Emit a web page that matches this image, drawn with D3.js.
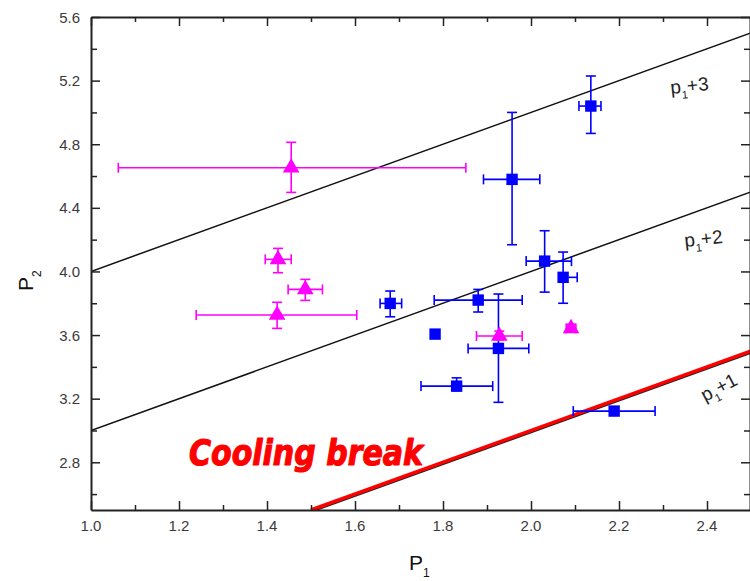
<!DOCTYPE html>
<html>
<head>
<meta charset="utf-8">
<script src="https://cdn.jsdelivr.net/npm/d3@7"></script>
<style>
  html, body { margin: 0; padding: 0; background: #fff; }
  svg { display: block; }
</style>
</head>
<body>
<svg id="chart" width="750" height="581"></svg>
<script>
// Blue squares: P1, P2 with asymmetric error ranges
const blueP1    = [2.136, 1.957, 2.031, 2.073, 1.880, 1.680, 1.782, 1.926, 1.831, 2.189];
const blueP2    = [5.040, 4.579, 4.065, 3.963, 3.820, 3.799, 3.606, 3.516, 3.279, 3.122];
const blueP1Lo  = [2.109, 1.892, 1.989, 2.064, 1.780, 1.657, 1.782, 1.857, 1.750, 2.096];
const blueP1Hi  = [2.159, 2.020, 2.092, 2.105, 1.980, 1.706, 1.782, 1.995, 1.913, 2.282];
const blueP2Lo  = [4.868, 4.168, 3.870, 3.800, 3.745, 3.715, 3.606, 3.177, 3.250, 3.122];
const blueP2Hi  = [5.229, 5.000, 4.256, 4.122, 3.887, 3.877, 3.606, 3.858, 3.331, 3.122];

// Magenta triangles
const magP1     = [1.455, 1.425, 1.487, 1.423, 1.928, 2.091];
const magP2     = [4.652, 4.076, 3.887, 3.726, 3.594, 3.642];
const magP1Lo   = [1.062, 1.396, 1.448, 1.239, 1.876, 2.080];
const magP1Hi   = [1.852, 1.455, 1.526, 1.604, 1.980, 2.102];
const magP2Lo   = [4.497, 3.992, 3.818, 3.642, 3.570, 3.620];
const magP2Hi   = [4.812, 4.145, 3.950, 3.806, 3.625, 3.668];

// Reference lines P2 = P1 + k
const lineOffsets = [3, 2, 1];
const xTickLabels = ["1.0", "1.2", "1.4", "1.6", "1.8", "2.0", "2.2", "2.4"];
const yTickLabels = ["2.8", "3.2", "3.6", "4.0", "4.4", "4.8", "5.2", "5.6"];

const svg = d3.select("#chart");
const x = d3.scaleLinear().domain([1.0, 2.5]).range([91, 751]);
const y = d3.scaleLinear().domain([2.5, 5.6]).range([510, 17]);

const plot = svg.append("g");
plot.append("clipPath").attr("id", "clip")
  .append("rect").attr("x", x(1.0)).attr("y", y(5.6))
  .attr("width", x(2.5) - x(1.0)).attr("height", y(2.5) - y(5.6));
const inner = plot.append("g").attr("clip-path", "url(#clip)");

// Reference lines
function segment(k) {
  const x0 = Math.max(1.0, 2.5 - k);
  return [[x0, x0 + k], [2.5, 2.5 + k]];
}
lineOffsets.forEach(k => {
  const s = segment(k);
  if (k === 1) {
    inner.append("line")
      .attr("x1", x(s[0][0]) + 0.5).attr("y1", y(s[0][1]) + 1.6)
      .attr("x2", x(s[1][0]) + 0.5).attr("y2", y(s[1][1]) + 1.6)
      .attr("stroke", "#222").attr("stroke-width", 2);
    inner.append("line")
      .attr("x1", x(s[0][0])).attr("y1", y(s[0][1]))
      .attr("x2", x(s[1][0])).attr("y2", y(s[1][1]))
      .attr("stroke", "#ff0000").attr("stroke-width", 3.6);
  } else {
    inner.append("line")
      .attr("x1", x(s[0][0])).attr("y1", y(s[0][1]))
      .attr("x2", x(s[1][0])).attr("y2", y(s[1][1]))
      .attr("stroke", "#111").attr("stroke-width", 1.5);
  }
});

// Error bars + markers
function drawSeries(p1, p2, lo1, hi1, lo2, hi2, color, shape) {
  const g = inner.append("g").attr("stroke", color).attr("fill", color);
  const cap = 5;
  p1.forEach((v, i) => {
    const cx = x(v), cy = y(p2[i]);
    const xl = x(lo1[i]), xr = x(hi1[i]);
    const yt = y(hi2[i]), yb = y(lo2[i]);
    if (xr - xl > 2) {
      g.append("line").attr("x1", xl).attr("x2", xr).attr("y1", cy).attr("y2", cy).attr("stroke-width", 1.6);
      g.append("line").attr("x1", xl).attr("x2", xl).attr("y1", cy - cap).attr("y2", cy + cap).attr("stroke-width", 1.6);
      g.append("line").attr("x1", xr).attr("x2", xr).attr("y1", cy - cap).attr("y2", cy + cap).attr("stroke-width", 1.6);
    }
    if (yb - yt > 2) {
      g.append("line").attr("x1", cx).attr("x2", cx).attr("y1", yt).attr("y2", yb).attr("stroke-width", 1.6);
      g.append("line").attr("x1", cx - cap).attr("x2", cx + cap).attr("y1", yt).attr("y2", yt).attr("stroke-width", 1.6);
      g.append("line").attr("x1", cx - cap).attr("x2", cx + cap).attr("y1", yb).attr("y2", yb).attr("stroke-width", 1.6);
    }
  });
  g.selectAll("path.m").data(p1).join("path")
    .attr("class", "m")
    .attr("transform", (v, i) => `translate(${x(v)},${y(p2[i])})`)
    .attr("d", d3.symbol().type(shape).size(shape === d3.symbolSquare ? 130 : 120))
    .attr("stroke", "none");
}
drawSeries(blueP1, blueP2, blueP1Lo, blueP1Hi, blueP2Lo, blueP2Hi, "#0000ff", d3.symbolSquare);
drawSeries(magP1, magP2, magP1Lo, magP1Hi, magP2Lo, magP2Hi, "#ff00ff", d3.symbolTriangle);

// Axes (ticks pointing inward)
const axisColor = "#222";
const labelFont = "'Liberation Sans', Arial, sans-serif";

const xBottom = d3.axisTop(x).tickValues(d3.range(1.0, 2.51, 0.1)).tickSize(0).tickFormat("");
const bottomG = svg.append("g").attr("transform", `translate(0,${y(2.5)})`);
bottomG.call(xBottom);
bottomG.selectAll(".tick line").attr("y2", d => Math.round(d * 10) % 2 === 0 ? -9 : -5);

const xTop = d3.axisBottom(x).tickValues(d3.range(1.0, 2.51, 0.1)).tickSize(0).tickFormat("");
const topG = svg.append("g").attr("transform", `translate(0,${y(5.6)})`);
topG.call(xTop);
topG.selectAll(".tick line").attr("y2", d => Math.round(d * 10) % 2 === 0 ? 9 : 5);

const yLeft = d3.axisRight(y).tickValues(d3.range(2.6, 5.61, 0.2)).tickSize(0).tickFormat("");
const leftG = svg.append("g").attr("transform", `translate(${x(1.0)},0)`);
leftG.call(yLeft);
leftG.selectAll(".tick line").attr("x2", d => Math.round(d * 10) % 4 === 0 ? 9 : 6);

const yRight = d3.axisLeft(y).tickValues(d3.range(2.6, 5.61, 0.2)).tickSize(0).tickFormat("");
const rightG = svg.append("g").attr("transform", `translate(${x(2.5) - 1},0)`);
rightG.call(yRight);
rightG.selectAll(".tick line").attr("x2", d => Math.round(d * 10) % 4 === 0 ? -9 : -6);

[bottomG, topG, leftG, rightG].forEach(g => {
  g.select(".domain").attr("stroke", axisColor).attr("stroke-width", 2);
  g.selectAll(".tick line").attr("stroke", axisColor).attr("stroke-width", 1.5);
});

// Tick labels
svg.append("g").selectAll("text").data(xTickLabels).join("text")
  .attr("x", d => x(+d)).attr("y", 531)
  .attr("text-anchor", "middle")
  .attr("font-family", labelFont).attr("font-size", 15).attr("fill", "#3a3a3a")
  .text(d => d);
svg.append("g").selectAll("text").data(yTickLabels).join("text")
  .attr("x", 80).attr("y", d => y(+d) + 5.5)
  .attr("text-anchor", "end")
  .attr("font-family", labelFont).attr("font-size", 15).attr("fill", "#3a3a3a")
  .text(d => d);

// Axis titles
const xt = svg.append("text").attr("x", 409).attr("y", 570)
  .attr("font-family", labelFont).attr("font-size", 21).attr("fill", "#111");
xt.append("tspan").text("P");
xt.append("tspan").attr("font-size", 12).attr("dy", 7).text("1");

const yt = svg.append("text").attr("transform", "translate(33,291) rotate(-90)")
  .attr("font-family", labelFont).attr("font-size", 21).attr("fill", "#111");
yt.append("tspan").text("P");
yt.append("tspan").attr("font-size", 12).attr("dy", 8).text("2");

// Line labels
function lineLabel(tx, ty, rot, k) {
  const t = svg.append("text").attr("transform", `translate(${tx},${ty}) rotate(${rot})`)
    .attr("font-family", labelFont).attr("font-size", 19).attr("fill", "#222");
  t.append("tspan").text("p");
  t.append("tspan").attr("font-size", 11).attr("dy", 6).text("1");
  t.append("tspan").attr("dy", -6).text("+" + k);
}
lineLabel(671, 94, -6, 3);
lineLabel(685, 247, -6, 2);
lineLabel(705, 402, -28, 1);

// Annotation
svg.append("text").attr("x", 189).attr("y", 465)
  .attr("font-family", "'DejaVu Sans', sans-serif").attr("font-weight", "bold").attr("font-style", "italic")
  .attr("font-size", 35).attr("fill", "#ff0000")
  .attr("stroke", "#ff0000").attr("stroke-width", 1.2).attr("stroke-linejoin", "round")
  .attr("textLength", 234).attr("lengthAdjust", "spacingAndGlyphs")
  .text("Cooling break");
</script>
</body>
</html>
